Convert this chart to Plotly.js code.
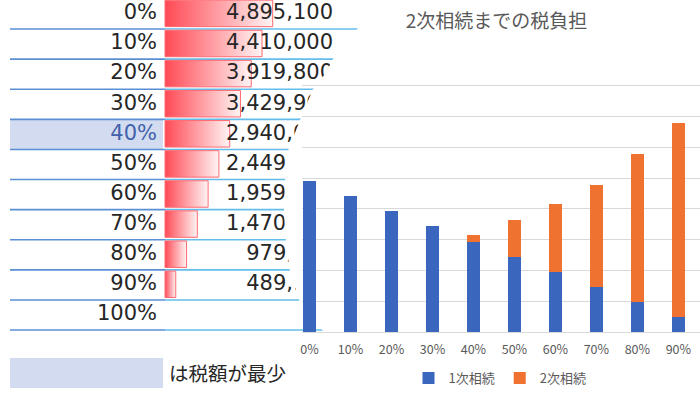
<!DOCTYPE html>
<html><head><meta charset="utf-8">
<script src="https://cdn.plot.ly/plotly-3.0.1.min.js"></script>
<style>html,body{margin:0;padding:0;background:#fff;}#chart{width:700px;height:393px;}</style>
</head><body><div id="chart"></div>
<script>
// ---- data ----
const shareLabels = ['0%','10%','20%','30%','40%','50%','60%','70%','80%','90%','100%'];
const firstTax = [4895100, 4410000, 3919800, 3429900, 2940000, 2449900, 1959900, 1470000, 979900, 489900, null];
const chartCategories = ['0%','10%','20%','30%','40%','50%','60%','70%','80%','90%'];
const chartFirst = [4895100, 4410000, 3919800, 3429900, 2940000, 2449900, 1959900, 1470000, 979900, 489900];
const chartSecond = [0, 0, 0, 0, 196000, 1200000, 2200000, 3290000, 4800000, 6290000];
const seriesNames = ['1次相続', '2次相続'];
const chartTitle = '2次相続までの税負担';
const noteText = 'は税額が最少';

// ---- layout constants (pixels) ----
const W = 700, H = 393;
const BAR_LEFT = 165, BAR_MAX_LEN = 107.7;
const LABEL_RIGHT = 157, NUMBER_RIGHT = 333;
const ROW0 = 14, ROW_H = 30.1;
const maxFirst = Math.max(...firstTax.filter(v => v != null));
const pxPerVal = BAR_MAX_LEN / maxFirst;
const px2v = px => (px - BAR_LEFT) / pxPerVal;
const fmt = v => v == null ? '' : v.toLocaleString('en-US');

// row with the smallest total tax
const totals = chartFirst.map((v, i) => v + chartSecond[i]);
const minIdx = totals.indexOf(Math.min(...totals));

const TFONT = '"DejaVu Sans", Verdana, sans-serif';
const JFONT = '"Noto Sans CJK JP", sans-serif';

const traces = [];
// data bars in the table (gradient)
firstTax.forEach((v, i) => {
  if (v == null || v === 0) return;
  traces.push({
    type: 'scatter', mode: 'lines', xaxis: 'x', yaxis: 'y',
    x: [0, v, v, 0, 0], y: [i - 0.46, i - 0.46, i + 0.42, i + 0.42, i - 0.46],
    fill: 'toself',
    fillgradient: {type: 'horizontal', colorscale: [[0, '#ff4a55'], [1, '#fff4f4']]},
    line: {color: '#ff6a72', width: 1},
    showlegend: false, hoverinfo: 'skip'
  });
});
const rowIdx = shareLabels.map((_, i) => i);
traces.push({
  type: 'scatter', mode: 'text', xaxis: 'x', yaxis: 'y',
  x: rowIdx.map(() => px2v(LABEL_RIGHT)), y: rowIdx,
  text: shareLabels, textposition: 'middle left',
  textfont: {family: TFONT, size: 21, color: rowIdx.map(i => i === minIdx ? '#4262ab' : '#262626')},
  showlegend: false, hoverinfo: 'skip'
});
traces.push({
  type: 'scatter', mode: 'text', xaxis: 'x', yaxis: 'y',
  x: rowIdx.map(() => px2v(NUMBER_RIGHT)), y: rowIdx,
  text: firstTax.map(fmt), textposition: 'middle left',
  textfont: {family: TFONT, size: 21, color: '#262626'},
  showlegend: false, hoverinfo: 'skip'
});
// white chart panel (curled edge) covering the table
const panel = [[368,0],[700,0],[700,393],[340,393],[340,345],[322,330],[300,302],[290,272],[286,242],[284,212],[285,181],[288,151],[300,120],[313,89],[325,74],[333,59],[345,44],[358,28],[368,0]];
traces.push({
  type: 'scatter', mode: 'lines', xaxis: 'x2', yaxis: 'y2',
  x: panel.map(p => p[0]), y: panel.map(p => p[1]),
  fill: 'toself', fillcolor: '#ffffff', line: {width: 0, color: 'rgba(0,0,0,0)'},
  showlegend: false, hoverinfo: 'skip'
});
// stacked chart
traces.push({type: 'bar', xaxis: 'x3', yaxis: 'y3', name: seriesNames[0], x: chartCategories, y: chartFirst,
  marker: {color: '#3a66bd'}});
traces.push({type: 'bar', xaxis: 'x3', yaxis: 'y3', name: seriesNames[1], x: chartCategories, y: chartSecond,
  marker: {color: '#f07230'}});

// shapes: row lines, highlight, note box
const shapes = [];
shapes.push({type: 'rect', xref: 'paper', yref: 'y', x0: 10 / W, x1: 163 / W, y0: minIdx - 0.5, y1: minIdx + 0.5,
  fillcolor: '#d2dbef', line: {width: 0}, layer: 'below'});
for (let k = 0; k < shareLabels.length; k++) {
  shapes.push({type: 'line', xref: 'paper', yref: 'y', x0: 10 / W, x1: 165 / W, y0: k + 0.5, y1: k + 0.5,
    line: {color: '#5a8fd4', width: 1.6}, layer: 'below'});
  shapes.push({type: 'line', xref: 'paper', yref: 'y', x0: 165 / W, x1: 420 / W, y0: k + 0.5, y1: k + 0.5,
    line: {color: '#62bdea', width: 1.6}, layer: 'below'});
}
shapes.push({type: 'rect', xref: 'paper', yref: 'paper', x0: 10 / W, x1: 163 / W, y0: 1 - 388 / H, y1: 1 - 358 / H,
  fillcolor: '#d2dbef', line: {width: 0}, layer: 'below'});

const catStart = -7.5 / 40.98;
const Y_TOP = 9.03e6, PX_PER_M = 277 / 9;
const layout = {
  width: W, height: H, margin: {l: 0, r: 0, t: 0, b: 0},
  paper_bgcolor: '#ffffff', plot_bgcolor: 'rgba(0,0,0,0)',
  showlegend: true, hovermode: false, barmode: 'stack', bargap: 0.69,
  title: {text: chartTitle, x: 496.5 / W, xanchor: 'center', y: 1 - 21.5 / H, yanchor: 'middle',
    font: {family: JFONT, size: 19, color: '#595959'}},
  xaxis: {domain: [0, 1], range: [px2v(0), px2v(W)], visible: false, fixedrange: true},
  yaxis: {domain: [0, 1], range: [(H - ROW0) / ROW_H, -ROW0 / ROW_H], visible: false, fixedrange: true},
  xaxis2: {domain: [0, 1], range: [0, W], visible: false, anchor: 'y2'},
  yaxis2: {domain: [0, 1], range: [H, 0], visible: false, anchor: 'x2'},
  xaxis3: {domain: [302 / W, 1], anchor: 'y3', type: 'category', range: [catStart, catStart + 398 / 40.98],
    showline: true, linecolor: '#d9d9d9', linewidth: 1, ticks: '', showgrid: false, ticklabelstandoff: 6,
    tickfont: {family: JFONT, size: 12.5, color: '#595959'}},
  yaxis3: {domain: [61 / H, (61 + PX_PER_M * Y_TOP / 1e6) / H], anchor: 'x3', range: [0, Y_TOP], dtick: 1e6,
    showticklabels: false, showgrid: true, gridcolor: '#d9d9d9', gridwidth: 1, zeroline: false, ticks: ''},
  legend: {orientation: 'h', traceorder: 'normal',
    x: 500 / W, xanchor: 'center', y: 1 - 378 / H, yanchor: 'middle',
    font: {family: JFONT, size: 13, color: '#595959'}, bgcolor: 'rgba(0,0,0,0)'},
  shapes: shapes,
  annotations: [{xref: 'paper', yref: 'paper', x: 167 / W, y: 1 - 372 / H, xanchor: 'left', yanchor: 'middle',
    text: noteText, showarrow: false, font: {family: JFONT, size: 19.5, color: '#262626'}}]
};
Plotly.newPlot('chart', traces, layout, {staticPlot: true, displayModeBar: false});
</script></body></html>
